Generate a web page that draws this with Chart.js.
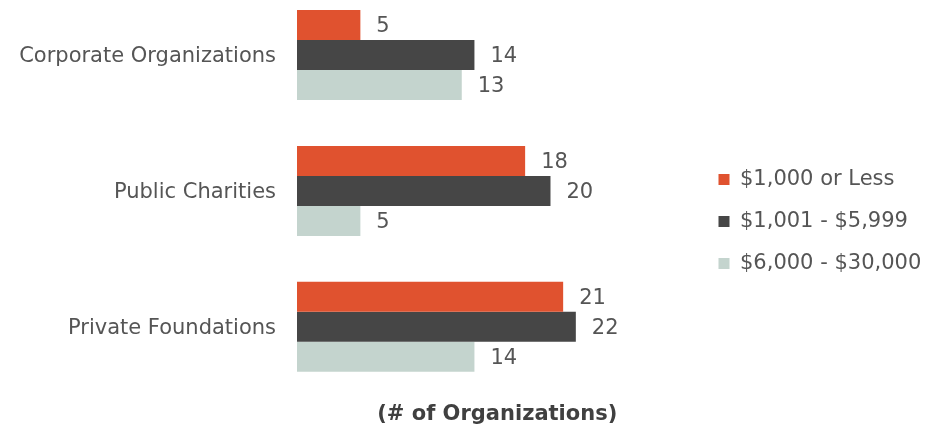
<!DOCTYPE html>
<html>
<head>
<meta charset="utf-8">
<script src="https://cdn.jsdelivr.net/npm/chart.js@4"></script>
<style>
  html, body { margin: 0; padding: 0; background: #fff; overflow: hidden; }
  #wrap { position: relative; width: 936px; height: 441px; margin-top: -13px; }
</style>
</head>
<body>
<div id="wrap"><canvas id="barChart"></canvas></div>
<script>
// datos del grafico
const categorias = ['Corporate Organizations', 'Public Charities', 'Private Foundations'];
const menosDe1000 = [5, 18, 21];
const de1001a5999 = [14, 20, 22];
const de6000a30000 = [13, 5, 14];
const tituloEjeX = '(# of Organizations)';

const grisTexto = '#555555';
const fuente = "'DejaVu Sans', Verdana, sans-serif";

// etiquetas de valor al final de cada barra
const etiquetasValor = {
  id: 'etiquetasValor',
  afterDatasetsDraw(chart) {
    const ctx = chart.ctx;
    ctx.save();
    ctx.font = '21px ' + fuente;
    ctx.fillStyle = grisTexto;
    ctx.textBaseline = 'middle';
    ctx.textAlign = 'left';
    chart.data.datasets.forEach((ds, i) => {
      chart.getDatasetMeta(i).data.forEach((bar, j) => {
        ctx.fillText(ds.data[j], bar.x + 16, bar.y + 2);
      });
    });
    ctx.restore();
  }
};

const ctx = document.getElementById('barChart').getContext('2d');
new Chart(ctx, {
  type: 'bar',
  data: {
    labels: categorias,
    datasets: [
      { label: '$1,000 or Less', data: menosDe1000, backgroundColor: '#E0522F' },
      { label: '$1,001 - $5,999', data: de1001a5999, backgroundColor: '#464646' },
      { label: '$6,000 - $30,000', data: de6000a30000, backgroundColor: '#C4D4CE' }
    ]
  },
  options: {
    indexAxis: 'y',
    responsive: true,
    maintainAspectRatio: false,
    animation: false,
    datasets: { bar: { barPercentage: 1, categoryPercentage: 0.662 } },
    layout: { padding: { left: 0, right: 6, top: 0, bottom: 0 } },
    plugins: {
      tooltip: { enabled: false },
      legend: {
        position: 'right',
        // titulo vacio solo para bajar un poco la leyenda
        title: { display: true, text: ' ', font: { size: 10 }, padding: 8 },
        labels: {
          boxWidth: 11,
          boxHeight: 11,
          padding: 21,
          color: grisTexto,
          font: { family: fuente, size: 21 }
        }
      }
    },
    scales: {
      x: {
        min: 0,
        max: 31.6,
        grid: { display: false, drawTicks: false },
        border: { display: false },
        ticks: { display: false },
        title: {
          display: true,
          text: tituloEjeX,
          color: '#404040',
          font: { family: fuente, size: 21, weight: 'bold' },
          padding: { top: 7, bottom: 1 }
        }
      },
      y: {
        grid: { display: false, drawTicks: false },
        border: { display: false },
        afterFit(scale) {
          scale.width = 297;
          scale.paddingTop = 0;
          scale.paddingBottom = 0;
        },
        ticks: {
          color: grisTexto,
          padding: 21,
          labelOffset: 2,
          font: { family: fuente, size: 21 }
        }
      }
    }
  },
  plugins: [etiquetasValor]
});
</script>
</body>
</html>
